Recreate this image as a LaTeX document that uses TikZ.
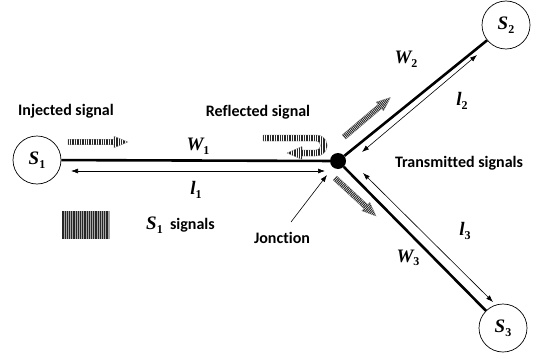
\documentclass[tikz,border=0pt]{standalone}
\usepackage{fontspec}
\setmainfont{Carlito}[Ligatures={NoCommon,NoRare}]
\newfontfamily\symfont{Liberation Serif}
\usetikzlibrary{arrows.meta}

% bold italic symbol with bold subscript
\newcommand\lbl[2]{{\symfont\bfseries\itshape #1}\raisebox{-0.4ex}{\symfont\bfseries\fontsize{12}{12}\selectfont #2}}

% striped block arrow: tail x, tail y, direction angle, length
\newcommand\hatcharrow[4]{%
  \begin{scope}[shift={(#1,#2)}, rotate=#3]
    \begin{scope}
      \clip (0,-2.8) -- (#4-14,-2.8) -- (#4-14,-5.8) -- (#4,0) -- (#4-14,5.8) -- (#4-14,2.8) -- (0,2.8) -- cycle;
      \foreach \s in {0.6,2.3,...,#4} \draw[hatchline] (\s,-7) -- (\s,7);
    \end{scope}
    \draw[hatchedge] (0,-2.8) -- (#4-14,-2.8) -- (#4-14,-5.8) -- (#4,0) -- (#4-14,5.8) -- (#4-14,2.8) -- (0,2.8) -- cycle;
  \end{scope}}

\begin{document}
\begin{tikzpicture}[x=1pt, y=-1pt,
  station/.style={circle, draw, line width=0.7pt, minimum size=48pt, inner sep=0pt,
                  font=\fontsize{19}{21}\selectfont},
  hub/.style={circle, fill=black, minimum size=16pt, inner sep=0pt},
  wire/.style={line width=2.6pt},
  span/.style={line width=0.6pt, {Latex[length=7pt,width=5pt]}-{Latex[length=7pt,width=5pt]}},
  pointer/.style={line width=0.6pt, -{Latex[length=7pt,width=5pt]}},
  txt/.style={font=\bfseries\fontsize{16}{18}\selectfont, inner sep=0pt},
  sym/.style={font=\fontsize{19}{21}\selectfont, inner sep=0pt},
  hatchline/.style={line width=0.95pt, black!85},
  hatchedge/.style={line width=0.3pt, black!50}]
  \useasboundingbox (0,0) rectangle (537,361);

  % stations and junction
  \node[station] (S1) at (37,160) {\lbl{S}{1}};
  \node[station] (S2) at (506,25) {\lbl{S}{2}};
  \node[station] (S3) at (503,328) {\lbl{S}{3}};
  \node[hub] (J) at (338,161) {};

  % lines
  \draw[wire] (S1) -- (J);
  \draw[wire] (J) -- (S2);
  \draw[wire] (J) -- (S3);

  % length markers
  \coordinate (l1a) at (71,171);  \coordinate (l1b) at (325,171);
  \coordinate (l2a) at (362,152); \coordinate (l2b) at (477,55);
  \coordinate (l3a) at (363,173); \coordinate (l3b) at (493,302);
  \draw[span] (l1a) -- (l1b);
  \draw[span] (l2a) -- (l2b);
  \draw[span] (l3a) -- (l3b);

  % labels
  \node[sym] (W1) at (198,146) {\lbl{W}{1}};
  \node[sym] (L1) at (196,190) {\lbl{l}{1}};
  \node[sym] (W2) at (406,59) {\lbl{W}{2}};
  \node[sym] (L2) at (462,101) {\lbl{l}{2}};
  \node[sym] (W3) at (408,258) {\lbl{W}{3}};
  \node[sym] (L3) at (465,231) {\lbl{l}{3}};

  \node[txt] (inj) at (66,111) {Injected signal};
  \node[txt] (ref) at (258,112) {Reflected signal};
  \node[txt] (tra) at (459,163) {Transmitted signals};
  \node[txt, anchor=west] (sig) at (146,225) {{\fontsize{19}{21}\selectfont\lbl{S}{1}}\ \ signals};
  \node[txt] (jon) at (282,238) {Jonction};

  \coordinate (ja) at (291,222);
  \coordinate (jb) at (327,175);
  \draw[pointer] (ja) -- (jb);

  % striped key box
  \node[minimum width=48pt, minimum height=28pt, inner sep=0pt,
        path picture={
          \fill[black!35] (path picture bounding box.south west) rectangle (path picture bounding box.north east);
          \foreach \s in {1,3.2,...,47}
            \draw[line width=1.3pt, black!85]
              ([xshift=\s pt]path picture bounding box.south west) --
              ([xshift=\s pt]path picture bounding box.north west);
        }] (key) at (86,225) {};

  % signal arrows
  \hatcharrow{68}{142}{0}{60}
  \hatcharrow{344}{137}{40.4}{61}
  \hatcharrow{335}{178}{-42.8}{56}

  % reflected U-turn arrow
  \begin{scope}
    \clip (263,135) -- (316,135) .. controls (331,135) and (331,156) .. (316,156)
      -- (302,156) -- (302,159.5) -- (287,153) -- (302,146.5) -- (302,150) -- (316,150)
      .. controls (322,150) and (322,141) .. (316,141) -- (263,141) -- cycle;
    \foreach \s in {263.6,265.3,...,330} \draw[hatchline] (\s,130) -- (\s,162);
  \end{scope}
  \draw[hatchedge] (263,135) -- (316,135) .. controls (331,135) and (331,156) .. (316,156)
      -- (302,156) -- (302,159.5) -- (287,153) -- (302,146.5) -- (302,150) -- (316,150)
      .. controls (322,150) and (322,141) .. (316,141) -- (263,141) -- cycle;
\end{tikzpicture}
\end{document}
